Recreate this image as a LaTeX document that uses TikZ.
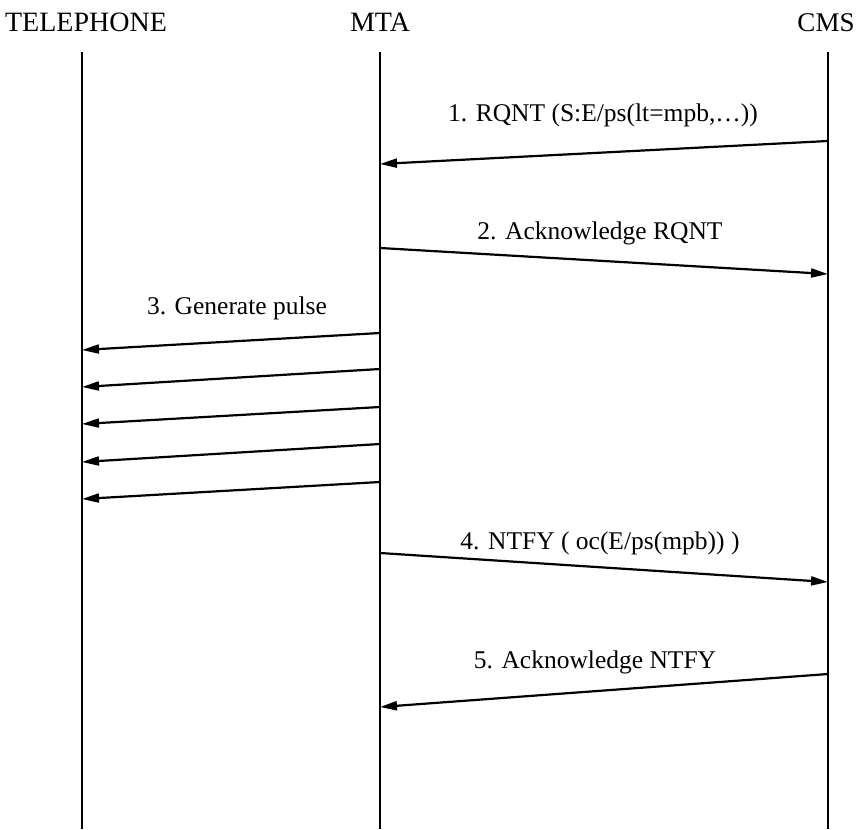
\documentclass[tikz,border=0pt]{standalone}
\usepackage{fontspec}
\setmainfont{Liberation Serif}
\usetikzlibrary{arrows.meta}

\begin{document}
\begin{tikzpicture}[x=1pt,y=-1pt,>={Triangle[length=17pt,width=9pt]},line width=2.2pt, every node/.style={font=\fontsize{25.5}{30}\selectfont,inner sep=0pt}]
  \useasboundingbox (0,0) rectangle (858,829);
  \node[font=\fontsize{28}{32}\selectfont] (tel) at (86,22) {TELEPHONE}; \node[font=\fontsize{28}{32}\selectfont] (mta) at (380,22) {MTA};
  \node[font=\fontsize{27}{32}\selectfont] (cms) at (826,23) {CMS};
  \coordinate (tel-top) at (82,52); \coordinate (tel-bot) at (82,829); \draw (tel-top) -- (tel-bot);
  \coordinate (mta-top) at (380,52); \coordinate (mta-bot) at (380,829); \draw (mta-top) -- (mta-bot);
  \coordinate (cms-top) at (828,52); \coordinate (cms-bot) at (828,829); \draw (cms-top) -- (cms-bot);
  % 1. request from CMS
  \coordinate (m1a) at (828,141); \coordinate (m1b) at (380,164); \draw[->] (m1a) -- (m1b);
  \node (l1) at (603,115) {1. RQNT (S:E/ps(lt=mpb,\ldots))};
  % 2. ack
  \coordinate (m2a) at (380,248); \coordinate (m2b) at (828,274); \draw[->] (m2a) -- (m2b);
  \node (l2) at (600,233) {2. Acknowledge RQNT};
  % 3. pulses
  \node (l3) at (237,308) {3. Generate pulse};
  \foreach \ya/\yb [count=\i] in {333/350,369/387,407/424,444/462,482/499} {
    \coordinate (p\i a) at (380,\ya); \coordinate (p\i b) at (82,\yb); \draw[->] (p\i a) -- (p\i b);
  }
  % 4. notify
  \coordinate (m4a) at (380,553); \coordinate (m4b) at (828,582); \draw[->] (m4a) -- (m4b);
  \node (l4) at (600,543) {4. NTFY ( oc(E/ps(mpb)) )};
  % 5. ack
  \coordinate (m5a) at (828,674); \coordinate (m5b) at (380,707); \draw[->] (m5a) -- (m5b);
  \node (l5) at (595,662) {5. Acknowledge NTFY};
\end{tikzpicture}
\end{document}
